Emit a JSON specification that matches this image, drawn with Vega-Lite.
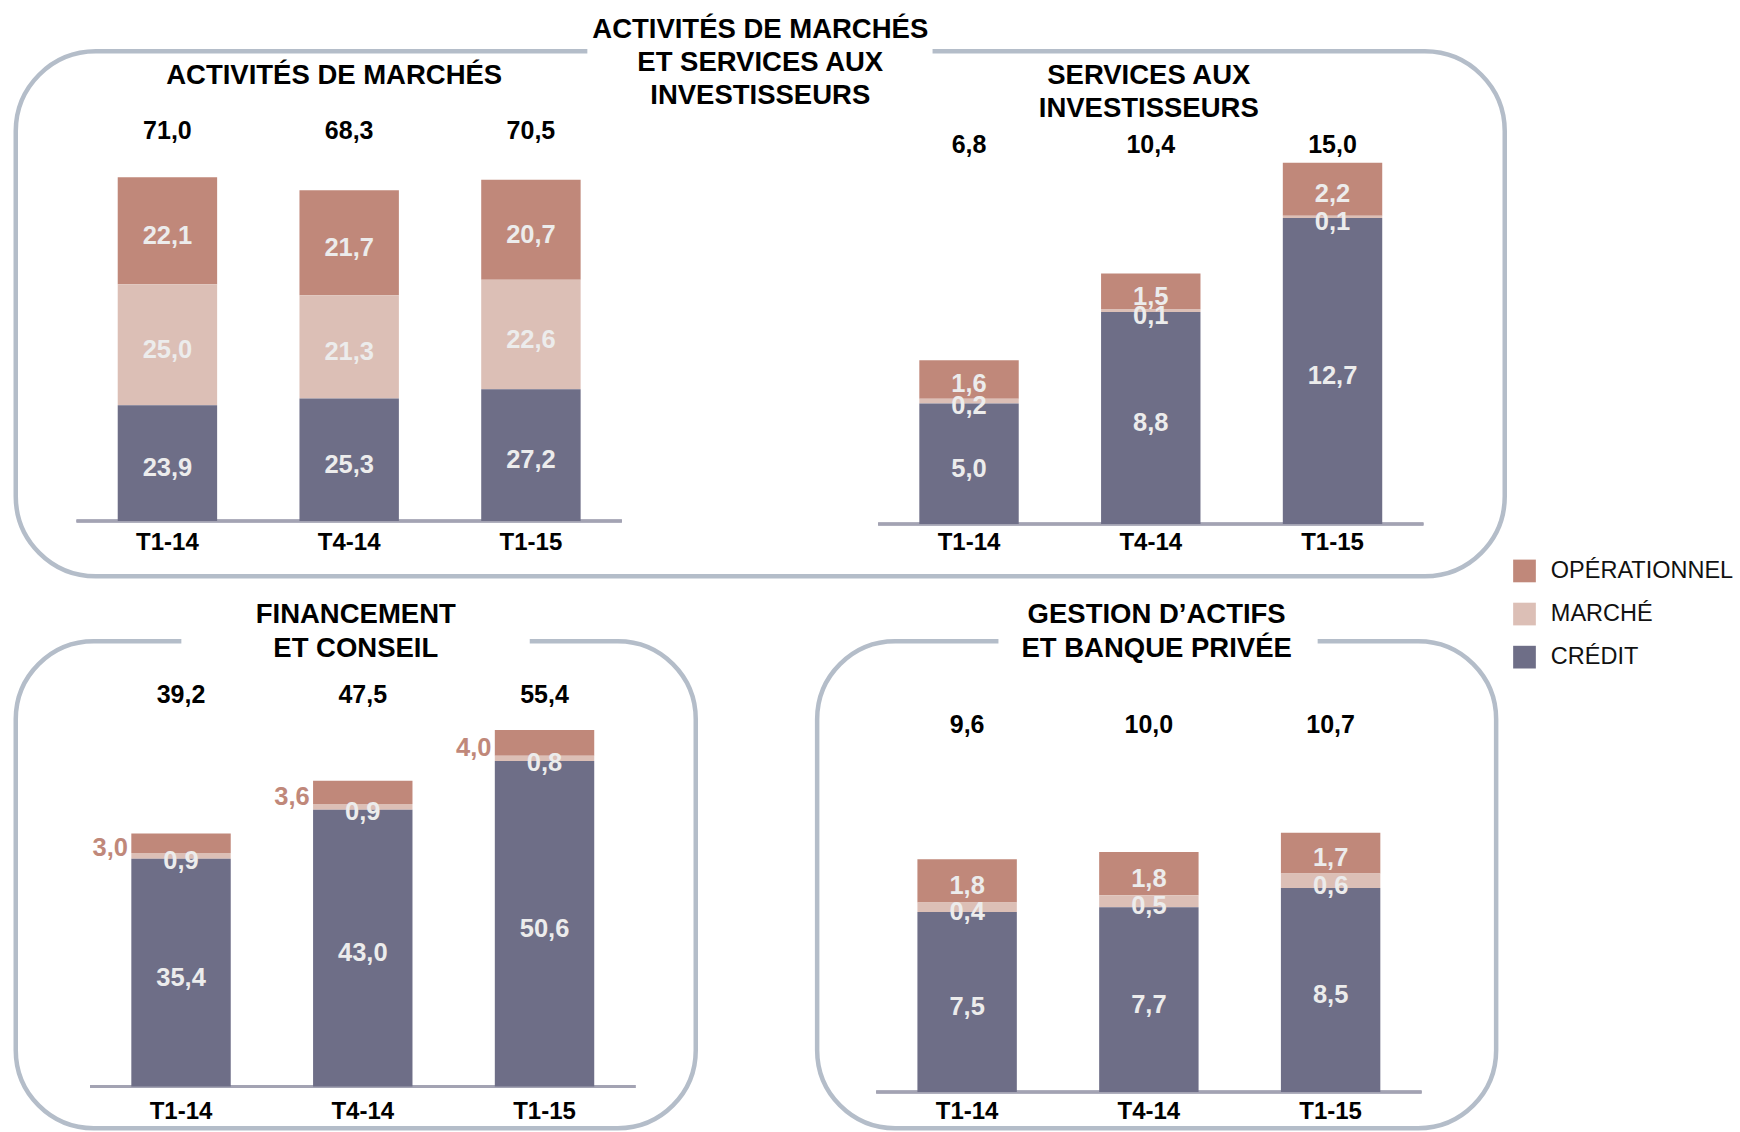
{
  "$schema": "https://vega.github.io/schema/vega-lite/v6.json",
  "padding": {"left": 12.75, "top": 13.3, "right": 0, "bottom": 0},
  "autosize": {"type": "pad"},
  "bounds": "flush",
  "spacing": 65,
  "datasets": {
    "risks": [
      {"panel": "A", "period": "T1-14", "risk": "OPÉRATIONNEL", "v": 22.1},
      {"panel": "A", "period": "T1-14", "risk": "MARCHÉ", "v": 25.0},
      {"panel": "A", "period": "T1-14", "risk": "CRÉDIT", "v": 23.9},
      {"panel": "A", "period": "T4-14", "risk": "OPÉRATIONNEL", "v": 21.7},
      {"panel": "A", "period": "T4-14", "risk": "MARCHÉ", "v": 21.3},
      {"panel": "A", "period": "T4-14", "risk": "CRÉDIT", "v": 25.3},
      {"panel": "A", "period": "T1-15", "risk": "OPÉRATIONNEL", "v": 20.7},
      {"panel": "A", "period": "T1-15", "risk": "MARCHÉ", "v": 22.6},
      {"panel": "A", "period": "T1-15", "risk": "CRÉDIT", "v": 27.2},
      {"panel": "S", "period": "T1-14", "risk": "OPÉRATIONNEL", "v": 1.6},
      {"panel": "S", "period": "T1-14", "risk": "MARCHÉ", "v": 0.2},
      {"panel": "S", "period": "T1-14", "risk": "CRÉDIT", "v": 5.0},
      {"panel": "S", "period": "T4-14", "risk": "OPÉRATIONNEL", "v": 1.5},
      {"panel": "S", "period": "T4-14", "risk": "MARCHÉ", "v": 0.1},
      {"panel": "S", "period": "T4-14", "risk": "CRÉDIT", "v": 8.8},
      {"panel": "S", "period": "T1-15", "risk": "OPÉRATIONNEL", "v": 2.2},
      {"panel": "S", "period": "T1-15", "risk": "MARCHÉ", "v": 0.1},
      {"panel": "S", "period": "T1-15", "risk": "CRÉDIT", "v": 12.7},
      {"panel": "FC", "period": "T1-14", "risk": "OPÉRATIONNEL", "v": 3.0},
      {"panel": "FC", "period": "T1-14", "risk": "MARCHÉ", "v": 0.9},
      {"panel": "FC", "period": "T1-14", "risk": "CRÉDIT", "v": 35.4},
      {"panel": "FC", "period": "T4-14", "risk": "OPÉRATIONNEL", "v": 3.6},
      {"panel": "FC", "period": "T4-14", "risk": "MARCHÉ", "v": 0.9},
      {"panel": "FC", "period": "T4-14", "risk": "CRÉDIT", "v": 43.0},
      {"panel": "FC", "period": "T1-15", "risk": "OPÉRATIONNEL", "v": 4.0},
      {"panel": "FC", "period": "T1-15", "risk": "MARCHÉ", "v": 0.8},
      {"panel": "FC", "period": "T1-15", "risk": "CRÉDIT", "v": 50.6},
      {"panel": "G", "period": "T1-14", "risk": "OPÉRATIONNEL", "v": 1.8},
      {"panel": "G", "period": "T1-14", "risk": "MARCHÉ", "v": 0.4},
      {"panel": "G", "period": "T1-14", "risk": "CRÉDIT", "v": 7.5},
      {"panel": "G", "period": "T4-14", "risk": "OPÉRATIONNEL", "v": 1.8},
      {"panel": "G", "period": "T4-14", "risk": "MARCHÉ", "v": 0.5},
      {"panel": "G", "period": "T4-14", "risk": "CRÉDIT", "v": 7.7},
      {"panel": "G", "period": "T1-15", "risk": "OPÉRATIONNEL", "v": 1.7},
      {"panel": "G", "period": "T1-15", "risk": "MARCHÉ", "v": 0.6},
      {"panel": "G", "period": "T1-15", "risk": "CRÉDIT", "v": 8.5}
    ],
    "totals": [
      {"panel": "A", "period": "T1-14", "total": 71.0},
      {"panel": "A", "period": "T4-14", "total": 68.3},
      {"panel": "A", "period": "T1-15", "total": 70.5},
      {"panel": "S", "period": "T1-14", "total": 6.8},
      {"panel": "S", "period": "T4-14", "total": 10.4},
      {"panel": "S", "period": "T1-15", "total": 15.0},
      {"panel": "FC", "period": "T1-14", "total": 39.2},
      {"panel": "FC", "period": "T4-14", "total": 47.5},
      {"panel": "FC", "period": "T1-15", "total": 55.4},
      {"panel": "G", "period": "T1-14", "total": 9.6},
      {"panel": "G", "period": "T4-14", "total": 10.0},
      {"panel": "G", "period": "T1-15", "total": 10.7}
    ]
  },
  "vconcat": [
    {
      "width": 1489,
      "height": 525,
      "view": {"stroke": "#B4BDC9", "strokeWidth": 4.5, "cornerRadius": 80, "strokeDash": [491.6, 345.2, 4000]},
      "layer": [
        {
          "layer": [
            {
              "data": {"name": "totals"},
              "transform": [{"filter": "datum.panel === 'A'"}],
              "mark": {"type": "rule", "color": "#A3A3B3", "strokeWidth": 3},
              "encoding": {
                "x": {"field": "panel", "type": "nominal", "bandPosition": 0, "scale": {"domain": ["A", "S"], "paddingInner": 0.3198, "paddingOuter": 0.088668, "align": 0.42772}, "axis": null},
                "x2": {"field": "panel", "bandPosition": 1},
                "y": {"datum": 0, "type": "quantitative", "scale": {"domain": [-11.446, 97.025], "nice": false, "zero": false}, "axis": null}
              }
            },
            {
              "data": {"name": "risks"},
              "transform": [{"filter": "datum.panel === 'A'"}],
              "mark": {"type": "bar"},
              "encoding": {
                "x": {"field": "panel", "type": "nominal", "scale": {"domain": ["A", "S"], "paddingInner": 0.3198, "paddingOuter": 0.088668, "align": 0.42772}, "axis": null},
                "xOffset": {"field": "period", "type": "nominal", "scale": {"domain": ["T1-14", "T4-14", "T1-15"], "paddingInner": 0.453, "paddingOuter": 0.2265}},
                "y": {"field": "v", "type": "quantitative", "stack": "zero", "scale": {"domain": [-11.446, 97.025], "nice": false, "zero": false}, "axis": null},
                "color": {"field": "risk", "type": "nominal", "scale": {"domain": ["OPÉRATIONNEL", "MARCHÉ", "CRÉDIT"], "range": ["#C0887A", "#DCBFB6", "#6E6E87"]}, "legend": {"orient": "none", "legendX": 1497, "legendY": 507.9, "title": null, "symbolType": "square", "symbolSize": 515, "symbolStrokeWidth": 0, "symbolOpacity": 1, "labelFontSize": 23.5, "labelFont": "Liberation Sans", "labelFontWeight": "normal", "labelColor": "#111111", "labelOffset": 14.6, "rowPadding": 18.1, "padding": 0, "labelLimit": 400}},
                "order": {"field": "risk", "type": "nominal", "sort": "ascending"}
              }
            },
            {
              "data": {"name": "risks"},
              "transform": [{"filter": "datum.panel === 'A'"}],
              "mark": {"type": "text", "dy": 5, "fontSize": 25.5, "fontWeight": "bold", "color": "#ECECEC"},
              "encoding": {
                "x": {"field": "panel", "type": "nominal", "scale": {"domain": ["A", "S"], "paddingInner": 0.3198, "paddingOuter": 0.088668, "align": 0.42772}, "axis": null},
                "xOffset": {"field": "period", "type": "nominal", "scale": {"domain": ["T1-14", "T4-14", "T1-15"], "paddingInner": 0.453, "paddingOuter": 0.2265}},
                "y": {"field": "v", "type": "quantitative", "stack": "zero", "bandPosition": 0.5, "scale": {"domain": [-11.446, 97.025], "nice": false, "zero": false}, "axis": null},
                "order": {"field": "risk", "type": "nominal", "sort": "ascending"},
                "text": {"field": "v", "type": "quantitative", "format": ".1f"}
              }
            },
            {
              "data": {"name": "totals"},
              "transform": [{"filter": "datum.panel === 'A'"}],
              "mark": {"type": "text", "fontSize": 25, "fontWeight": "bold", "color": "#000000"},
              "encoding": {
                "x": {"field": "panel", "type": "nominal", "scale": {"domain": ["A", "S"], "paddingInner": 0.3198, "paddingOuter": 0.088668, "align": 0.42772}, "axis": null},
                "xOffset": {"field": "period", "type": "nominal", "scale": {"domain": ["T1-14", "T4-14", "T1-15"], "paddingInner": 0.453, "paddingOuter": 0.2265}},
                "y": {"datum": 80.6, "type": "quantitative", "scale": {"domain": [-11.446, 97.025], "nice": false, "zero": false}, "axis": null},
                "text": {"field": "total", "type": "quantitative", "format": ".1f"}
              }
            },
            {
              "data": {"name": "totals"},
              "transform": [{"filter": "datum.panel === 'A'"}],
              "mark": {"type": "text", "fontSize": 24, "fontWeight": "bold", "color": "#000000"},
              "encoding": {
                "x": {"field": "panel", "type": "nominal", "scale": {"domain": ["A", "S"], "paddingInner": 0.3198, "paddingOuter": 0.088668, "align": 0.42772}, "axis": null},
                "xOffset": {"field": "period", "type": "nominal", "scale": {"domain": ["T1-14", "T4-14", "T1-15"], "paddingInner": 0.453, "paddingOuter": 0.2265}},
                "y": {"datum": -4.59, "type": "quantitative", "scale": {"domain": [-11.446, 97.025], "nice": false, "zero": false}, "axis": null},
                "text": {"field": "period", "type": "nominal"}
              }
            },
            {
              "data": {"values": [{}]},
              "mark": {"type": "text", "text": "ACTIVITÉS DE MARCHÉS", "fontSize": 27.5, "fontWeight": "bold", "color": "#000000", "dx": -15},
              "encoding": {
                "x": {"datum": "A", "type": "nominal", "scale": {"domain": ["A", "S"], "paddingInner": 0.3198, "paddingOuter": 0.088668, "align": 0.42772}, "axis": null},
                "y": {"datum": 91.84, "type": "quantitative", "scale": {"domain": [-11.446, 97.025], "nice": false, "zero": false}, "axis": null}
              }
            },
            {
              "data": {"values": [{}]},
              "mark": {"type": "text", "text": ["ACTIVITÉS DE MARCHÉS", "ET SERVICES AUX", "INVESTISSEURS"], "baseline": "top", "lineHeight": 33.2, "fontSize": 27.5, "fontWeight": "bold", "color": "#000000"},
              "encoding": {
                "y": {"datum": 104.3, "type": "quantitative", "scale": {"domain": [-11.446, 97.025], "nice": false, "zero": false}, "axis": null}
              }
            }
          ]
        },
        {
          "layer": [
            {
              "data": {"name": "totals"},
              "transform": [{"filter": "datum.panel === 'S'"}],
              "mark": {"type": "rule", "color": "#A3A3B3", "strokeWidth": 3},
              "encoding": {
                "x": {"field": "panel", "type": "nominal", "bandPosition": 0, "scale": {"domain": ["A", "S"], "paddingInner": 0.3198, "paddingOuter": 0.088668, "align": 0.42772}, "axis": null},
                "x2": {"field": "panel", "bandPosition": 1},
                "y": {"datum": 0, "type": "quantitative", "scale": {"domain": [-2.176, 19.626], "nice": false, "zero": false}, "axis": null}
              }
            },
            {
              "data": {"name": "risks"},
              "transform": [{"filter": "datum.panel === 'S'"}],
              "mark": {"type": "bar"},
              "encoding": {
                "x": {"field": "panel", "type": "nominal", "scale": {"domain": ["A", "S"], "paddingInner": 0.3198, "paddingOuter": 0.088668, "align": 0.42772}, "axis": null},
                "xOffset": {"field": "period", "type": "nominal", "scale": {"domain": ["T1-14", "T4-14", "T1-15"], "paddingInner": 0.453, "paddingOuter": 0.2265}},
                "y": {"field": "v", "type": "quantitative", "stack": "zero", "scale": {"domain": [-2.176, 19.626], "nice": false, "zero": false}, "axis": null},
                "color": {"field": "risk", "type": "nominal", "scale": {"domain": ["OPÉRATIONNEL", "MARCHÉ", "CRÉDIT"], "range": ["#C0887A", "#DCBFB6", "#6E6E87"]}},
                "order": {"field": "risk", "type": "nominal", "sort": "ascending"}
              }
            },
            {
              "data": {"name": "risks"},
              "transform": [{"filter": "datum.panel === 'S'"}],
              "mark": {"type": "text", "dy": 5, "fontSize": 25.5, "fontWeight": "bold", "color": "#ECECEC"},
              "encoding": {
                "x": {"field": "panel", "type": "nominal", "scale": {"domain": ["A", "S"], "paddingInner": 0.3198, "paddingOuter": 0.088668, "align": 0.42772}, "axis": null},
                "xOffset": {"field": "period", "type": "nominal", "scale": {"domain": ["T1-14", "T4-14", "T1-15"], "paddingInner": 0.453, "paddingOuter": 0.2265}},
                "y": {"field": "v", "type": "quantitative", "stack": "zero", "bandPosition": 0.5, "scale": {"domain": [-2.176, 19.626], "nice": false, "zero": false}, "axis": null},
                "order": {"field": "risk", "type": "nominal", "sort": "ascending"},
                "text": {"field": "v", "type": "quantitative", "format": ".1f"}
              }
            },
            {
              "data": {"name": "totals"},
              "transform": [{"filter": "datum.panel === 'S'"}],
              "mark": {"type": "text", "fontSize": 25, "fontWeight": "bold", "color": "#000000"},
              "encoding": {
                "x": {"field": "panel", "type": "nominal", "scale": {"domain": ["A", "S"], "paddingInner": 0.3198, "paddingOuter": 0.088668, "align": 0.42772}, "axis": null},
                "xOffset": {"field": "period", "type": "nominal", "scale": {"domain": ["T1-14", "T4-14", "T1-15"], "paddingInner": 0.453, "paddingOuter": 0.2265}},
                "y": {"datum": 15.72, "type": "quantitative", "scale": {"domain": [-2.176, 19.626], "nice": false, "zero": false}, "axis": null},
                "text": {"field": "total", "type": "quantitative", "format": ".1f"}
              }
            },
            {
              "data": {"name": "totals"},
              "transform": [{"filter": "datum.panel === 'S'"}],
              "mark": {"type": "text", "fontSize": 24, "fontWeight": "bold", "color": "#000000"},
              "encoding": {
                "x": {"field": "panel", "type": "nominal", "scale": {"domain": ["A", "S"], "paddingInner": 0.3198, "paddingOuter": 0.088668, "align": 0.42772}, "axis": null},
                "xOffset": {"field": "period", "type": "nominal", "scale": {"domain": ["T1-14", "T4-14", "T1-15"], "paddingInner": 0.453, "paddingOuter": 0.2265}},
                "y": {"datum": -0.797, "type": "quantitative", "scale": {"domain": [-2.176, 19.626], "nice": false, "zero": false}, "axis": null},
                "text": {"field": "period", "type": "nominal"}
              }
            },
            {
              "data": {"values": [{}]},
              "mark": {"type": "text", "text": ["SERVICES AUX", "INVESTISSEURS"], "baseline": "top", "lineHeight": 33, "fontSize": 27.5, "fontWeight": "bold", "color": "#000000", "dx": -2},
              "encoding": {
                "x": {"datum": "S", "type": "nominal", "scale": {"domain": ["A", "S"], "paddingInner": 0.3198, "paddingOuter": 0.088668, "align": 0.42772}, "axis": null},
                "y": {"datum": 19.165, "type": "quantitative", "scale": {"domain": [-2.176, 19.626], "nice": false, "zero": false}, "axis": null}
              }
            }
          ]
        }
      ],
      "resolve": {"scale": {"y": "independent"}}
    },
    {
      "hconcat": [
        {
          "width": 680,
          "height": 487,
          "view": {"stroke": "#B4BDC9", "strokeWidth": 4.5, "cornerRadius": 78, "strokeDash": [87.6, 348.4, 4000]},
          "layer": [
            {
              "data": {"name": "totals"},
              "transform": [{"filter": "datum.panel === 'FC'"}],
              "mark": {"type": "rule", "color": "#A3A3B3", "strokeWidth": 3},
              "encoding": {
                "x": {"field": "panel", "type": "nominal", "bandPosition": 0, "scale": {"domain": ["FC"], "paddingInner": 0, "paddingOuter": 0.12351, "align": 0.55234}, "axis": null},
                "x2": {"field": "panel", "bandPosition": 1},
                "y": {"datum": 0, "type": "quantitative", "scale": {"domain": [-6.496, 69.185], "nice": false, "zero": false}, "axis": null}
              }
            },
            {
              "data": {"name": "risks"},
              "transform": [{"filter": "datum.panel === 'FC'"}],
              "mark": {"type": "bar"},
              "encoding": {
                "x": {"field": "panel", "type": "nominal", "scale": {"domain": ["FC"], "paddingInner": 0, "paddingOuter": 0.12351, "align": 0.55234}, "axis": null},
                "xOffset": {"field": "period", "type": "nominal", "scale": {"domain": ["T1-14", "T4-14", "T1-15"], "paddingInner": 0.453, "paddingOuter": 0.2265}},
                "y": {"field": "v", "type": "quantitative", "stack": "zero", "scale": {"domain": [-6.496, 69.185], "nice": false, "zero": false}, "axis": null},
                "color": {"field": "risk", "type": "nominal", "scale": {"domain": ["OPÉRATIONNEL", "MARCHÉ", "CRÉDIT"], "range": ["#C0887A", "#DCBFB6", "#6E6E87"]}},
                "order": {"field": "risk", "type": "nominal", "sort": "ascending"}
              }
            },
            {
              "data": {"name": "risks"},
              "transform": [{"filter": "datum.panel === 'FC'"}],
              "mark": {"type": "text", "dy": 5, "fontSize": 25.5, "fontWeight": "bold", "color": "#ECECEC"},
              "encoding": {
                "x": {"field": "panel", "type": "nominal", "scale": {"domain": ["FC"], "paddingInner": 0, "paddingOuter": 0.12351, "align": 0.55234}, "axis": null},
                "xOffset": {"field": "period", "type": "nominal", "scale": {"domain": ["T1-14", "T4-14", "T1-15"], "paddingInner": 0.453, "paddingOuter": 0.2265}},
                "y": {"field": "v", "type": "quantitative", "stack": "zero", "bandPosition": 0.5, "scale": {"domain": [-6.496, 69.185], "nice": false, "zero": false}, "axis": null},
                "order": {"field": "risk", "type": "nominal", "sort": "ascending"},
                "text": {"condition": {"test": "datum.risk !== 'OPÉRATIONNEL'", "field": "v", "type": "quantitative", "format": ".1f"}, "value": ""}
              }
            },
            {
              "data": {"name": "risks"},
              "transform": [{"filter": "datum.panel === 'FC'"}],
              "mark": {"type": "text", "dy": 5, "dx": -53, "align": "right", "fontSize": 25.5, "fontWeight": "bold", "color": "#C0887A"},
              "encoding": {
                "x": {"field": "panel", "type": "nominal", "scale": {"domain": ["FC"], "paddingInner": 0, "paddingOuter": 0.12351, "align": 0.55234}, "axis": null},
                "xOffset": {"field": "period", "type": "nominal", "scale": {"domain": ["T1-14", "T4-14", "T1-15"], "paddingInner": 0.453, "paddingOuter": 0.2265}},
                "y": {"field": "v", "type": "quantitative", "stack": "zero", "bandPosition": 0.5, "scale": {"domain": [-6.496, 69.185], "nice": false, "zero": false}, "axis": null},
                "order": {"field": "risk", "type": "nominal", "sort": "ascending"},
                "text": {"condition": {"test": "datum.risk === 'OPÉRATIONNEL'", "field": "v", "type": "quantitative", "format": ".1f"}, "value": ""}
              }
            },
            {
              "data": {"name": "totals"},
              "transform": [{"filter": "datum.panel === 'FC'"}],
              "mark": {"type": "text", "fontSize": 25, "fontWeight": "bold", "color": "#000000"},
              "encoding": {
                "x": {"field": "panel", "type": "nominal", "scale": {"domain": ["FC"], "paddingInner": 0, "paddingOuter": 0.12351, "align": 0.55234}, "axis": null},
                "xOffset": {"field": "period", "type": "nominal", "scale": {"domain": ["T1-14", "T4-14", "T1-15"], "paddingInner": 0.453, "paddingOuter": 0.2265}},
                "y": {"datum": 60.79, "type": "quantitative", "scale": {"domain": [-6.496, 69.185], "nice": false, "zero": false}, "axis": null},
                "text": {"field": "total", "type": "quantitative", "format": ".1f"}
              }
            },
            {
              "data": {"name": "totals"},
              "transform": [{"filter": "datum.panel === 'FC'"}],
              "mark": {"type": "text", "fontSize": 24, "fontWeight": "bold", "color": "#000000"},
              "encoding": {
                "x": {"field": "panel", "type": "nominal", "scale": {"domain": ["FC"], "paddingInner": 0, "paddingOuter": 0.12351, "align": 0.55234}, "axis": null},
                "xOffset": {"field": "period", "type": "nominal", "scale": {"domain": ["T1-14", "T4-14", "T1-15"], "paddingInner": 0.453, "paddingOuter": 0.2265}},
                "y": {"datum": -3.99, "type": "quantitative", "scale": {"domain": [-6.496, 69.185], "nice": false, "zero": false}, "axis": null},
                "text": {"field": "period", "type": "nominal"}
              }
            },
            {
              "data": {"values": [{}]},
              "mark": {"type": "text", "text": ["FINANCEMENT", "ET CONSEIL"], "baseline": "top", "lineHeight": 34.2, "fontSize": 27.5, "fontWeight": "bold", "color": "#000000"},
              "encoding": {
                "y": {"datum": 75.46, "type": "quantitative", "scale": {"domain": [-6.496, 69.185], "nice": false, "zero": false}, "axis": null}
              }
            }
          ]
        },
        {
          "width": 679,
          "height": 487,
          "view": {"stroke": "#B4BDC9", "strokeWidth": 4.5, "cornerRadius": 78, "strokeDash": [103.3, 319.2, 4000]},
          "layer": [
            {
              "data": {"name": "totals"},
              "transform": [{"filter": "datum.panel === 'G'"}],
              "mark": {"type": "rule", "color": "#A3A3B3", "strokeWidth": 3},
              "encoding": {
                "x": {"field": "panel", "type": "nominal", "bandPosition": 0, "scale": {"domain": ["G"], "paddingInner": 0, "paddingOuter": 0.122593, "align": 0.44203}, "axis": null},
                "x2": {"field": "panel", "bandPosition": 1},
                "y": {"datum": 0, "type": "quantitative", "scale": {"domain": [-1.5125, 18.779], "nice": false, "zero": false}, "axis": null}
              }
            },
            {
              "data": {"name": "risks"},
              "transform": [{"filter": "datum.panel === 'G'"}],
              "mark": {"type": "bar"},
              "encoding": {
                "x": {"field": "panel", "type": "nominal", "scale": {"domain": ["G"], "paddingInner": 0, "paddingOuter": 0.122593, "align": 0.44203}, "axis": null},
                "xOffset": {"field": "period", "type": "nominal", "scale": {"domain": ["T1-14", "T4-14", "T1-15"], "paddingInner": 0.453, "paddingOuter": 0.2265}},
                "y": {"field": "v", "type": "quantitative", "stack": "zero", "scale": {"domain": [-1.5125, 18.779], "nice": false, "zero": false}, "axis": null},
                "color": {"field": "risk", "type": "nominal", "scale": {"domain": ["OPÉRATIONNEL", "MARCHÉ", "CRÉDIT"], "range": ["#C0887A", "#DCBFB6", "#6E6E87"]}},
                "order": {"field": "risk", "type": "nominal", "sort": "ascending"}
              }
            },
            {
              "data": {"name": "risks"},
              "transform": [{"filter": "datum.panel === 'G'"}],
              "mark": {"type": "text", "dy": 5, "fontSize": 25.5, "fontWeight": "bold", "color": "#ECECEC"},
              "encoding": {
                "x": {"field": "panel", "type": "nominal", "scale": {"domain": ["G"], "paddingInner": 0, "paddingOuter": 0.122593, "align": 0.44203}, "axis": null},
                "xOffset": {"field": "period", "type": "nominal", "scale": {"domain": ["T1-14", "T4-14", "T1-15"], "paddingInner": 0.453, "paddingOuter": 0.2265}},
                "y": {"field": "v", "type": "quantitative", "stack": "zero", "bandPosition": 0.5, "scale": {"domain": [-1.5125, 18.779], "nice": false, "zero": false}, "axis": null},
                "order": {"field": "risk", "type": "nominal", "sort": "ascending"},
                "text": {"field": "v", "type": "quantitative", "format": ".1f"}
              }
            },
            {
              "data": {"name": "totals"},
              "transform": [{"filter": "datum.panel === 'G'"}],
              "mark": {"type": "text", "fontSize": 25, "fontWeight": "bold", "color": "#000000"},
              "encoding": {
                "x": {"field": "panel", "type": "nominal", "scale": {"domain": ["G"], "paddingInner": 0, "paddingOuter": 0.122593, "align": 0.44203}, "axis": null},
                "xOffset": {"field": "period", "type": "nominal", "scale": {"domain": ["T1-14", "T4-14", "T1-15"], "paddingInner": 0.453, "paddingOuter": 0.2265}},
                "y": {"datum": 15.29, "type": "quantitative", "scale": {"domain": [-1.5125, 18.779], "nice": false, "zero": false}, "axis": null},
                "text": {"field": "total", "type": "quantitative", "format": ".1f"}
              }
            },
            {
              "data": {"name": "totals"},
              "transform": [{"filter": "datum.panel === 'G'"}],
              "mark": {"type": "text", "fontSize": 24, "fontWeight": "bold", "color": "#000000"},
              "encoding": {
                "x": {"field": "panel", "type": "nominal", "scale": {"domain": ["G"], "paddingInner": 0, "paddingOuter": 0.122593, "align": 0.44203}, "axis": null},
                "xOffset": {"field": "period", "type": "nominal", "scale": {"domain": ["T1-14", "T4-14", "T1-15"], "paddingInner": 0.453, "paddingOuter": 0.2265}},
                "y": {"datum": -0.842, "type": "quantitative", "scale": {"domain": [-1.5125, 18.779], "nice": false, "zero": false}, "axis": null},
                "text": {"field": "period", "type": "nominal"}
              }
            },
            {
              "data": {"values": [{}]},
              "mark": {"type": "text", "text": ["GESTION D’ACTIFS", "ET BANQUE PRIVÉE"], "baseline": "top", "lineHeight": 34.2, "fontSize": 27.5, "fontWeight": "bold", "color": "#000000"},
              "encoding": {
                "y": {"datum": 20.46, "type": "quantitative", "scale": {"domain": [-1.5125, 18.779], "nice": false, "zero": false}, "axis": null}
              }
            }
          ]
        }
      ],
      "spacing": 121.4,
      "bounds": "flush"
    }
  ],
  "config": {
    "font": "Liberation Sans",
    "locale": {"number": {"decimal": ",", "thousands": " ", "grouping": [3], "currency": ["", " €"]}},
    "view": {"stroke": null}
  }
}
